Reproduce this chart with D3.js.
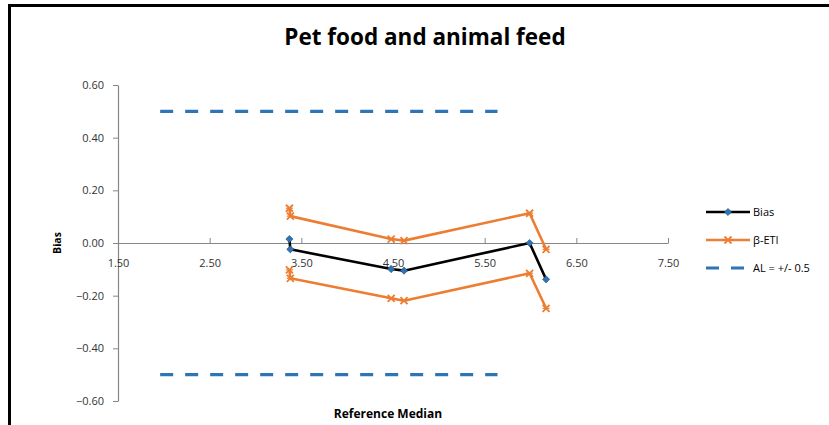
<!DOCTYPE html>
<html>
<head>
<meta charset="utf-8">
<script src="https://cdn.jsdelivr.net/npm/d3@7"></script>
<style>
  html, body { margin: 0; padding: 0; background: #fff; }
  svg { display: block; }
</style>
</head>
<body>
<svg id="chart" width="829" height="425"></svg>
<script>
// ---- data ----
const title = "Pet food and animal feed";
const xLabel = "Reference Median";
const yLabel = "Bias";
const xTicks = [1.5, 2.5, 3.5, 4.5, 5.5, 6.5, 7.5];
const yTicks = [0.6, 0.4, 0.2, 0.0, -0.2, -0.4, -0.6];

const medians = [3.37, 3.38, 4.48, 4.62, 5.99, 6.17];
const bias    = [0.015, -0.024, -0.099, -0.105, 0.000, -0.138];
const etiUpper = [0.132, 0.102, 0.015, 0.009, 0.113, -0.024];
const etiLower = [-0.102, -0.134, -0.210, -0.219, -0.115, -0.248];
const alX = [1.96, 5.64];
const alUpper = [0.5, 0.5];
const alLower = [-0.5, -0.5];

const seriesNames = ["Bias", "\u03B2-ETI", "AL = +/- 0.5"];

// ---- layout ----
const svg = d3.select("#chart");
const plot = { left: 118, right: 668, top: 85, bottom: 401 };
const x = d3.scaleLinear().domain([1.5, 7.5]).range([plot.left, plot.right]);
const y = d3.scaleLinear().domain([-0.6, 0.6]).range([plot.bottom, plot.top]);

const cBlack = "#000000", cOrange = "#ED7D31", cBlue = "#2E75B6", cAxis = "#868686", cText = "#333333";
const font = "'Open Sans', 'Liberation Sans', sans-serif";

// chart border
svg.append("rect").attr("x", 9.5).attr("y", 5.5).attr("width", 840).attr("height", 440)
  .attr("fill", "none").attr("stroke", "#000").attr("stroke-width", 3);

// title
svg.append("text").attr("x", 425).attr("y", 45).attr("text-anchor", "middle")
  .attr("font-family", font).attr("font-weight", "bold").attr("font-size", 22.5)
  .attr("fill", "#000").text(title);

// y axis
const yAxis = d3.axisLeft(y).tickValues(yTicks).tickFormat(d3.format(".2f")).tickSize(5).tickSizeOuter(0);
const gy = svg.append("g").attr("transform", `translate(${plot.left},0)`).call(yAxis);
gy.select(".domain").attr("stroke", cAxis).attr("stroke-width", 1.2);
gy.selectAll(".tick line").attr("stroke", cAxis);
gy.selectAll(".tick text").attr("font-family", font).attr("font-size", 11).attr("fill", cText).attr("x", -14);

// x axis at y=0, ticks upward, labels below
const xAxis = d3.axisBottom(x).tickValues(xTicks).tickFormat(d3.format(".2f")).tickSize(-5).tickSizeOuter(0);
const gx = svg.append("g").attr("transform", `translate(0,${y(0)})`).call(xAxis);
gx.select(".domain").attr("stroke", cAxis).attr("stroke-width", 1.2);
gx.selectAll(".tick line").attr("stroke", cAxis);
gx.selectAll(".tick text").attr("font-family", font).attr("font-size", 11).attr("fill", cText).attr("y", 16);

// axis titles
svg.append("text").attr("transform", `translate(61,${y(0)}) rotate(-90)`).attr("text-anchor", "middle")
  .attr("font-family", font).attr("font-weight", "bold").attr("font-size", 10.5).attr("fill", "#000").text(yLabel);
svg.append("text").attr("x", 388).attr("y", 418).attr("text-anchor", "middle")
  .attr("font-family", font).attr("font-weight", "bold").attr("font-size", 12).attr("fill", "#000").text(xLabel);

// AL dashed lines
const line = d3.line().x(d => x(d[0])).y(d => y(d[1]));
[alUpper, alLower].forEach(vals => {
  svg.append("path").datum(alX.map((v, i) => [v, vals[i]])).attr("d", line)
    .attr("fill", "none").attr("stroke", cBlue).attr("stroke-width", 3.2).attr("stroke-dasharray", "13,12");
});

// ETI lines with x markers
function xMarker(g, px, py, s) {
  g.append("path").attr("d", `M${px - s},${py - s}L${px + s},${py + s}M${px - s},${py + s}L${px + s},${py - s}`)
    .attr("stroke", cOrange).attr("stroke-width", 1.8).attr("fill", "none");
  g.append("path").attr("d", `M${px - s},${py}L${px + s},${py}`)
    .attr("stroke", cOrange).attr("stroke-width", 1.2).attr("fill", "none");
}
[etiUpper, etiLower].forEach(vals => {
  const pts = medians.map((m, i) => [m, vals[i]]);
  svg.append("path").datum(pts).attr("d", line).attr("fill", "none")
    .attr("stroke", cOrange).attr("stroke-width", 2.6).attr("stroke-linejoin", "round");
  const g = svg.append("g");
  pts.forEach(p => xMarker(g, x(p[0]), y(p[1]), 3.5));
});

// Bias line with diamond markers
function diamond(g, px, py, s) {
  g.append("path").attr("d", `M${px},${py - s}L${px + s},${py}L${px},${py + s}L${px - s},${py}Z`)
    .attr("fill", cBlue).attr("stroke", "#1F4E79").attr("stroke-width", 0.6);
}
const biasPts = medians.map((m, i) => [m, bias[i]]);
svg.append("path").datum(biasPts).attr("d", line).attr("fill", "none")
  .attr("stroke", cBlack).attr("stroke-width", 2.6).attr("stroke-linejoin", "round");
const gb = svg.append("g");
biasPts.forEach(p => diamond(gb, x(p[0]), y(p[1]), 3.6));

// legend
const lg = svg.append("g");
const lx0 = 706, lx1 = 750, ltx = 753;
const ly = [212, 240, 268];
lg.append("line").attr("x1", lx0).attr("x2", lx1).attr("y1", ly[0]).attr("y2", ly[0]).attr("stroke", cBlack).attr("stroke-width", 2.6);
diamond(lg, (lx0 + lx1) / 2, ly[0], 3.6);
lg.append("line").attr("x1", lx0).attr("x2", lx1).attr("y1", ly[1]).attr("y2", ly[1]).attr("stroke", cOrange).attr("stroke-width", 2.6);
xMarker(lg, (lx0 + lx1) / 2, ly[1], 3.5);
lg.append("line").attr("x1", lx0).attr("x2", lx1).attr("y1", ly[2]).attr("y2", ly[2]).attr("stroke", cBlue).attr("stroke-width", 3.2).attr("stroke-dasharray", "13,12");
seriesNames.forEach((n, i) => {
  lg.append("text").attr("x", ltx).attr("y", ly[i] + 4).attr("font-family", font).attr("font-size", 11)
    .attr("fill", "#000").text(n);
});
</script>
</body>
</html>
